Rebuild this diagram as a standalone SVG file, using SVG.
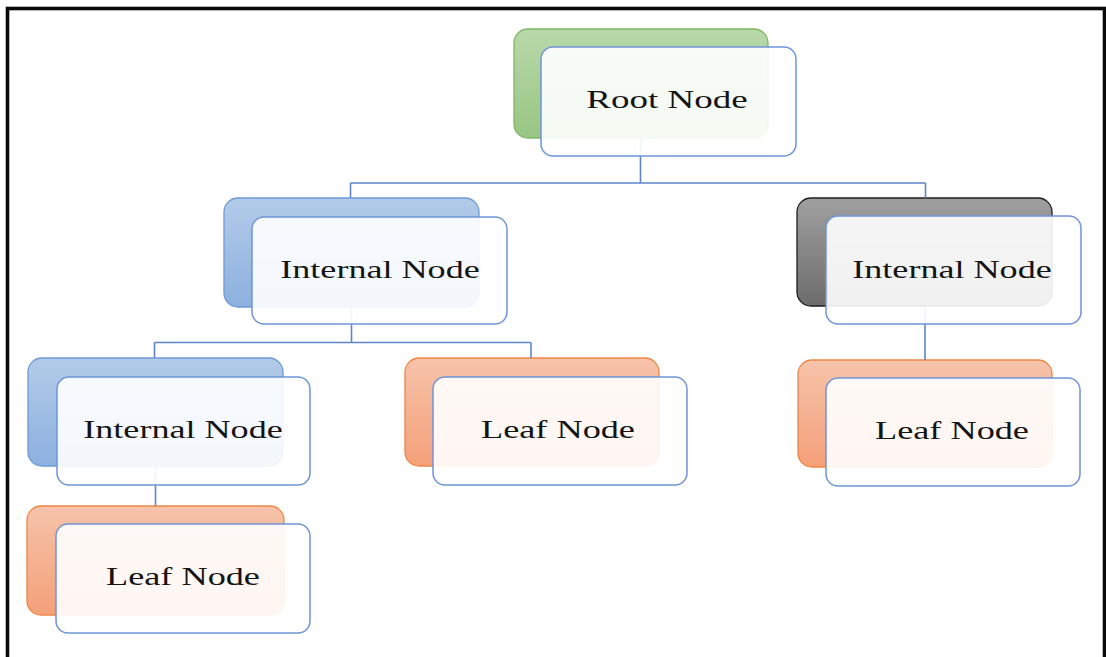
<svg xmlns="http://www.w3.org/2000/svg" width="1106" height="657" viewBox="0 0 1106 657">
  <defs>
    <linearGradient id="gGreen" x1="0" y1="0" x2="0" y2="1">
      <stop offset="0" stop-color="#b9d8aa"/>
      <stop offset="1" stop-color="#98c683"/>
    </linearGradient>
    <linearGradient id="gBlue" x1="0" y1="0" x2="0" y2="1">
      <stop offset="0" stop-color="#b3cbe9"/>
      <stop offset="1" stop-color="#8cb0df"/>
    </linearGradient>
    <linearGradient id="gGray" x1="0" y1="0" x2="0" y2="1">
      <stop offset="0" stop-color="#a0a0a0"/>
      <stop offset="1" stop-color="#6c6c6c"/>
    </linearGradient>
    <linearGradient id="gOrange" x1="0" y1="0" x2="0" y2="1">
      <stop offset="0" stop-color="#f6c3aa"/>
      <stop offset="1" stop-color="#f4a079"/>
    </linearGradient>
  </defs>
  <style>
    .back { stroke-width: 1.3; }
    .green { fill: url(#gGreen); stroke: #7fb564; }
    .blue { fill: url(#gBlue); stroke: #6d9ad6; }
    .gray { fill: url(#gGray); stroke: #1e1e1e; }
    .orange { fill: url(#gOrange); stroke: #ee8644; }
    .front { fill: #ffffff; fill-opacity: 0.9; stroke: #6f95d8; stroke-width: 1.5; }
    .label { font-family: "Liberation Serif", "Times New Roman", serif; font-size: 25px; fill: #141414; text-anchor: middle; }
    .link { fill: none; stroke: #5f84cc; stroke-width: 1.6; }
  </style>

  <rect width="1106" height="657" fill="#ffffff"/>
  <!-- outer frame -->
  <rect x="7.5" y="8.5" width="1097" height="700" fill="none" stroke="#0a0a0a" stroke-width="3.6"/>

  <!-- back plates -->
  <g id="backs">
    <rect class="back green" x="514" y="29" width="254" height="109" rx="14"/>
    <rect class="back blue" x="224" y="198" width="255" height="109" rx="14"/>
    <rect class="back gray" x="797" y="198" width="255" height="108" rx="14"/>
    <rect class="back blue" x="28" y="358" width="255" height="108" rx="14"/>
    <rect class="back orange" x="405" y="358" width="254" height="108" rx="14"/>
    <rect class="back orange" x="798" y="360" width="254" height="107" rx="14"/>
    <rect class="back orange" x="27" y="506" width="257" height="109" rx="14"/>
  </g>

  <!-- connectors -->
  <g id="connectors">
    <path class="link" d="M640.5 138 V183 M350.5 183 H925.5 M350.5 183 V198 M925.5 183 V198"/>
    <path class="link" d="M351.5 307 V342.5 M154.5 342.5 H531 M154.5 342.5 V358 M531 342.5 V358"/>
    <path class="link" d="M925 306 V360"/>
    <path class="link" d="M155.5 466 V506"/>
  </g>

  <!-- labels are set in a wide face: each is stretched horizontally -->
  <g id="root">
    <rect class="front" x="541" y="47" width="255" height="109" rx="12"/>
    <text class="label" transform="translate(667 108) scale(1.48 1)">Root Node</text>
  </g>
  <g id="internal-a">
    <rect class="front" x="252" y="217" width="255" height="107" rx="12"/>
    <text class="label" transform="translate(380 277.5) scale(1.445 1)">Internal Node</text>
  </g>
  <g id="internal-b">
    <rect class="front" x="826" y="216" width="255" height="108" rx="12"/>
    <text class="label" transform="translate(952 277.5) scale(1.445 1)">Internal Node</text>
  </g>
  <g id="internal-c">
    <rect class="front" x="57" y="377" width="253" height="108" rx="12"/>
    <text class="label" transform="translate(183 437.5) scale(1.445 1)">Internal Node</text>
  </g>
  <g id="leaf-a">
    <rect class="front" x="433" y="377" width="254" height="108" rx="12"/>
    <text class="label" transform="translate(558 437.5) scale(1.45 1)">Leaf Node</text>
  </g>
  <g id="leaf-b">
    <rect class="front" x="826" y="378" width="254" height="108" rx="12"/>
    <text class="label" transform="translate(952 438.5) scale(1.45 1)">Leaf Node</text>
  </g>
  <g id="leaf-c">
    <rect class="front" x="56" y="524" width="254" height="109" rx="12"/>
    <text class="label" transform="translate(183 585) scale(1.45 1)">Leaf Node</text>
  </g>
</svg>
